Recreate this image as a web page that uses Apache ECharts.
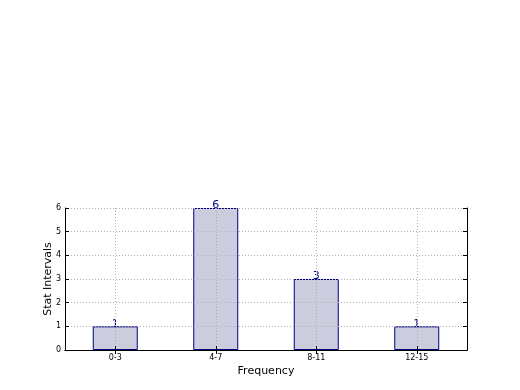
<!DOCTYPE html>
<html><head><meta charset="utf-8">
<script src="https://cdn.jsdelivr.net/npm/echarts@6/dist/echarts.min.js"></script>
<style>html,body{margin:0;padding:0;background:#fff}#c{width:520px;height:390px}</style>
</head><body><div id="c"></div>
<script>
const categories = ['0-3', '4-7', '8-11', '12-15'];
const values = [1, 6, 3, 1];
const yTicks = [0, 1, 2, 3, 4, 5, 6];

const chart = echarts.init(document.getElementById('c'), null, {renderer: 'canvas'});
const font = 'DejaVu Sans';
const gridLine = {show: true, lineStyle: {color: '#b0b0b0', type: [1, 2], width: 1}};
chart.setOption({
  animation: false,
  backgroundColor: '#fff',
  textStyle: {fontFamily: font},
  grid: {left: 65, right: 53, top: 208, bottom: 40, containLabel: false},
  xAxis: [{
    type: 'category', data: categories, position: 'bottom', z: 5,
    name: 'Frequency', nameLocation: 'middle', nameGap: 16, nameMoveOverlap: false,
    nameTextStyle: {fontSize: 11, color: '#000', fontFamily: font},
    axisLine: {show: true, lineStyle: {color: '#000', width: 1}},
    axisTick: {show: true, alignWithLabel: true, inside: true, length: 4, lineStyle: {color: '#000'}},
    axisLabel: {fontSize: 8, color: '#000', margin: 4, fontFamily: font},
    splitLine: Object.assign({alignWithLabel: true}, gridLine)
  }, {
    type: 'category', data: categories, position: 'top', z: 5,
    axisLine: {show: true, lineStyle: {color: '#000', width: 1}},
    axisTick: {show: true, alignWithLabel: true, inside: true, length: 4, lineStyle: {color: '#000'}},
    axisLabel: {show: false}, splitLine: {show: false}
  }],
  yAxis: [{
    type: 'value', min: 0, max: 6, interval: 1, position: 'left', z: 5,
    name: 'Stat Intervals', nameLocation: 'middle', nameGap: 11, nameRotate: 90, nameMoveOverlap: false,
    nameTextStyle: {fontSize: 11, color: '#000', fontFamily: font},
    axisLine: {show: true, lineStyle: {color: '#000', width: 1}},
    axisTick: {show: true, inside: true, length: 4, lineStyle: {color: '#000'}},
    axisLabel: {fontSize: 8, color: '#000', margin: 4, fontFamily: font,
      formatter: v => yTicks.includes(v) ? String(v) : ''},
    splitLine: gridLine
  }, {
    type: 'value', min: 0, max: 6, interval: 1, position: 'right', z: 5,
    axisLine: {show: true, lineStyle: {color: '#000', width: 1}},
    axisTick: {show: true, inside: true, length: 4, lineStyle: {color: '#000'}},
    axisLabel: {show: false}, splitLine: {show: false}
  }],
  series: [{
    type: 'bar', data: values, barWidth: 45, xAxisIndex: 0, yAxisIndex: 0,
    itemStyle: {color: '#ccccdf', borderColor: '#000080', borderWidth: 1},
    label: {show: true, position: 'top', distance: -3, fontSize: 11, color: '#000080', fontFamily: font},
    z: 1
  }]
});
</script></body></html>
